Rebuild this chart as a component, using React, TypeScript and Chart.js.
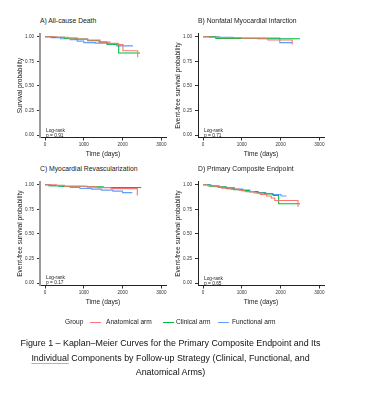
import React, { useEffect, useRef } from "react";
import { Chart, registerables } from "chart.js";

Chart.register(...registerables);

const FONT = '"Liberation Sans", Arial, Helvetica, sans-serif';

const groupNames = ["Anatomical arm", "Clinical arm", "Functional arm"];
const groupColors = ["#F8766D", "#00BA38", "#619CFF"];
const xTickValues = [0, 1000, 2000, 3000];
const yTickValues = [0, 0.25, 0.5, 0.75, 1];

// A) All-cause death
const deathAnatTime = [0, 300, 600, 850, 1100, 1420, 1670, 1880, 2010, 2390];
const deathAnatSurv = [1, 0.995, 0.987, 0.975, 0.965, 0.945, 0.933, 0.92, 0.857, 0.79];
const deathClinTime = [0, 200, 500, 800, 1100, 1400, 1600, 1900, 2450];
const deathClinSurv = [1, 0.993, 0.985, 0.975, 0.96, 0.945, 0.925, 0.835, 0.835];
const deathFuncTime = [0, 150, 400, 650, 830, 1000, 1300, 1600, 1850, 2270];
const deathFuncSurv = [1, 0.99, 0.98, 0.97, 0.955, 0.94, 0.935, 0.925, 0.907, 0.907];

// B) Nonfatal myocardial infarction
const miAnatTime = [0, 150, 400, 1000, 1670, 2300];
const miAnatSurv = [1, 0.995, 0.99, 0.985, 0.967, 0.92];
const miClinTime = [0, 330, 1400, 2500];
const miClinSurv = [1, 0.982, 0.98, 0.98];
const miFuncTime = [0, 420, 770, 1980, 2300];
const miFuncSurv = [1, 0.995, 0.987, 0.94, 0.94];

// C) Myocardial revascularization
const revAnatTime = [0, 300, 500, 1000, 1350, 1700, 2380];
const revAnatSurv = [1, 0.993, 0.985, 0.98, 0.97, 0.96, 0.89];
const revClinTime = [0, 100, 350, 1100, 1500, 2480];
const revClinSurv = [1, 0.99, 0.985, 0.978, 0.972, 0.972];
const revFuncTime = [0, 150, 450, 650, 900, 1200, 1450, 1750, 2000, 2250];
const revFuncSurv = [1, 0.99, 0.982, 0.972, 0.962, 0.955, 0.945, 0.935, 0.92, 0.92];

// D) Primary composite endpoint
const compAnatTime = [0, 120, 310, 480, 720, 930, 1090, 1320, 1480, 1640, 1760, 1850, 2450];
const compAnatSurv = [1, 0.99, 0.98, 0.965, 0.955, 0.945, 0.93, 0.915, 0.9, 0.885, 0.865, 0.84, 0.775];
const compClinTime = [0, 160, 390, 610, 790, 1010, 1190, 1420, 1590, 1810, 1950, 2500];
const compClinSurv = [1, 0.985, 0.975, 0.96, 0.95, 0.94, 0.93, 0.915, 0.905, 0.89, 0.806, 0.806];
const compFuncTime = [0, 210, 420, 580, 810, 1020, 1210, 1390, 1620, 1790, 2010, 2150];
const compFuncSurv = [1, 0.99, 0.98, 0.97, 0.955, 0.945, 0.93, 0.92, 0.91, 0.9, 0.885, 0.885];

const panelTitles = [
  "A) All-cause Death",
  "B) Nonfatal Myocardial Infarction",
  "C) Myocardial Revascularization",
  "D) Primary Composite Endpoint",
];
const panelYTitles = [
  "Survival probability",
  "Event-free survival probability",
  "Event-free survival probability",
  "Event-free survival probability",
];
const panelPValues = ["p = 0.91", "p = 0.71", "p = 0.17", "p = 0.65"];

const panelSeries = [
  [[deathAnatTime, deathAnatSurv], [deathClinTime, deathClinSurv], [deathFuncTime, deathFuncSurv]],
  [[miAnatTime, miAnatSurv], [miClinTime, miClinSurv], [miFuncTime, miFuncSurv]],
  [[revAnatTime, revAnatSurv], [revClinTime, revClinSurv], [revFuncTime, revFuncSurv]],
  [[compAnatTime, compAnatSurv], [compClinTime, compClinSurv], [compFuncTime, compFuncSurv]],
];

const CW = 172;
const CH = 132;
const panelPos = [
  { left: 0, top: 28, yColor: "#999", yWidth: 2 },
  { left: 158, top: 28, yColor: "#222", yWidth: 1 },
  { left: 0, top: 176, yColor: "#999", yWidth: 2 },
  { left: 158, top: 176, yColor: "#222", yWidth: 1 },
];

function Panel({ idx }: { idx: number }) {
  const ref = useRef<HTMLCanvasElement>(null);
  const pos = panelPos[idx];
  useEffect(() => {
    const datasets = panelSeries[idx].map((s, g) => ({
      label: groupNames[g],
      data: (s[0] as number[]).map((t, i) => ({ x: t, y: (s[1] as number[])[i] })),
      borderColor: groupColors[g],
      backgroundColor: groupColors[g],
      borderWidth: 1.1,
      pointRadius: 0,
      stepped: "before" as const,
      fill: false,
    }));
    const chart = new Chart(ref.current as HTMLCanvasElement, {
      type: "line",
      data: { datasets },
      options: {
        animation: false,
        responsive: false,
        devicePixelRatio: 1,
        layout: { padding: { top: 4, right: 6, left: 0, bottom: 0 } },
        plugins: {
          legend: { display: false },
          tooltip: { enabled: false },
          title: { display: false },
        },
        scales: {
          x: {
            type: "linear",
            min: -130,
            max: 3120,
            afterBuildTicks: (s: any) => {
              s.ticks = xTickValues.map((v) => ({ value: v }));
            },
            afterFit: (s: any) => {
              s.height = 22.5;
            },
            grid: { display: true, drawOnChartArea: false, drawTicks: true, tickLength: 3, color: "#333" },
            border: { display: true, color: "#222", width: 1 },
            ticks: {
              font: { size: 4.6, family: FONT },
              color: "#333",
              padding: 1,
              maxRotation: 0,
              autoSkip: false,
              callback: (v: any) => String(v),
            },
            title: {
              display: true,
              text: "Time (days)",
              font: { size: 6.6, family: FONT, lineHeight: 1.2 },
              color: "#222",
              padding: { top: 0, bottom: 2 },
            },
          },
          y: {
            type: "linear",
            min: -0.025,
            max: 1.03,
            afterBuildTicks: (s: any) => {
              s.ticks = yTickValues.map((v) => ({ value: v }));
            },
            afterFit: (s: any) => {
              s.width = 40;
            },
            grid: { display: true, drawOnChartArea: false, drawTicks: true, tickLength: 3, color: "#333" },
            border: { display: true, color: pos.yColor, width: pos.yWidth },
            ticks: {
              font: { size: 4.6, family: FONT },
              color: "#333",
              padding: 3,
              autoSkip: false,
              callback: (v: any) => Number(v).toFixed(2),
            },
            title: {
              display: true,
              text: panelYTitles[idx],
              font: { size: 6.6, family: FONT, lineHeight: 1.2 },
              color: "#222",
              padding: { top: 16, bottom: 0 },
            },
          },
        },
      } as any,
    });
    return () => chart.destroy();
  }, []);
  return (
    <canvas
      ref={ref}
      width={CW}
      height={CH}
      style={{ position: "absolute", left: pos.left, top: pos.top, width: CW, height: CH }}
    />
  );
}

const txt = (extra: React.CSSProperties): React.CSSProperties => ({
  position: "absolute",
  fontFamily: FONT,
  color: "#222",
  whiteSpace: "nowrap",
  ...extra,
});

export default function App() {
  const titlePos = [
    { left: 40, top: 17 },
    { left: 198, top: 17 },
    { left: 40, top: 165 },
    { left: 198, top: 165 },
  ];
  const logPos = [
    { left: 46, top: 128 },
    { left: 204, top: 127.5 },
    { left: 46, top: 275 },
    { left: 204, top: 275.5 },
  ];
  const legendX = [
    { line: 90, text: 106 },
    { line: 163, text: 176 },
    { line: 218, text: 232 },
  ];
  return (
    <div style={{ position: "absolute", left: 0, top: 0, width: 371, height: 393, background: "#fff", overflow: "hidden" }}>
      {[0, 1, 2, 3].map((i) => (
        <Panel key={i} idx={i} />
      ))}
      {panelTitles.map((t, i) => (
        <div key={"t" + i} style={txt({ left: titlePos[i].left, top: titlePos[i].top, fontSize: 6.8, lineHeight: "8px" })}>
          {t}
        </div>
      ))}
      {panelPValues.map((p, i) => (
        <div key={"p" + i} style={txt({ left: logPos[i].left, top: logPos[i].top, fontSize: 4.8, lineHeight: "5px" })}>
          Log-rank
          <br />
          {p}
        </div>
      ))}
      <div style={txt({ left: 65, top: 318, fontSize: 6.6, lineHeight: "8px" })}>Group</div>
      {groupNames.map((g, i) => (
        <React.Fragment key={"l" + i}>
          <div style={{ position: "absolute", left: legendX[i].line, top: 321.5, width: 11, height: 1, background: groupColors[i] }} />
          <div style={txt({ left: legendX[i].text, top: 318, fontSize: 6.6, lineHeight: "8px" })}>{g}</div>
        </React.Fragment>
      ))}
      <div
        style={{
          position: "absolute",
          left: 0,
          width: 341,
          top: 336,
          textAlign: "center",
          fontFamily: FONT,
          fontSize: 8.9,
          lineHeight: "14.7px",
          color: "#111",
          whiteSpace: "nowrap",
        }}
      >
        Figure 1 – Kaplan–Meier Curves for the Primary Composite Endpoint and Its
        <br />
        <span style={{ textDecoration: "underline", textDecorationColor: "#8fb8f0", textUnderlineOffset: "2px" }}>
          Individual
        </span>{" "}
        Components by Follow-up Strategy (Clinical, Functional, and
        <br />
        Anatomical Arms)
      </div>
    </div>
  );
}
